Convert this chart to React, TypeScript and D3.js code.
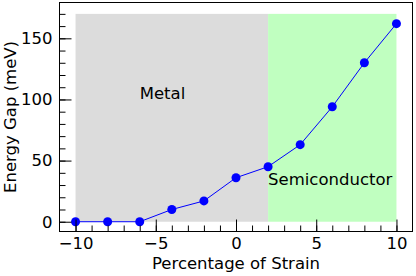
import React, { useEffect, useRef } from 'react';
import * as d3 from 'd3';

// strain (%) and band gap (meV)
const strain = [-10, -8, -6, -4, -2, 0, 2, 4, 6, 8, 10];
const gap = [0, 0, 0, 10, 17, 36, 45, 63, 94, 130, 162];

const xMajor = [-10, -5, 0, 5, 10];
const yMajor = [0, 50, 100, 150];

const metalRange = [-10, 2];
const semiRange = [2, 10];
const shadeTop = 170;

const W = 416;
const H = 276;
const FONT = 'DejaVu Sans, sans-serif';
const FS = 16.5;

function App() {
  const ref = useRef<SVGSVGElement | null>(null);

  useEffect(() => {
    const svg = d3.select(ref.current);
    svg.selectAll('*').remove();

    const left = 59.5, right = 412.5, top = 2.5, bottom = 231.5;

    const x = d3.scaleLinear().domain([-11, 11]).range([left, right]);
    const y = d3.scaleLinear().domain([-8, 179.3]).range([bottom, top]);

    // shaded regions
    svg.append('rect')
      .attr('x', x(metalRange[0]))
      .attr('y', y(shadeTop))
      .attr('width', x(metalRange[1]) - x(metalRange[0]))
      .attr('height', y(0) - y(shadeTop))
      .attr('fill', '#dcdcdc');

    svg.append('rect')
      .attr('x', x(semiRange[0]))
      .attr('y', y(shadeTop))
      .attr('width', x(semiRange[1]) - x(semiRange[0]))
      .attr('height', y(0) - y(shadeTop))
      .attr('fill', '#c0ffc0');

    // line + markers
    const pts = strain.map((s, i) => [s, gap[i]] as [number, number]);
    const line = d3.line<[number, number]>()
      .x(d => x(d[0]))
      .y(d => y(d[1]));

    svg.append('path')
      .datum(pts)
      .attr('d', line)
      .attr('fill', 'none')
      .attr('stroke', '#0000ff')
      .attr('stroke-width', 1);

    svg.selectAll('.pt')
      .data(pts)
      .join('circle')
      .attr('class', 'pt')
      .attr('cx', d => x(d[0]))
      .attr('cy', d => y(d[1]))
      .attr('r', 4.5)
      .attr('fill', '#0000ff');

    // region labels
    svg.append('text')
      .attr('x', x(-6))
      .attr('y', y(100))
      .attr('font-family', FONT)
      .attr('font-size', FS)
      .text('Metal');

    svg.append('text')
      .attr('x', x(2))
      .attr('y', y(30))
      .attr('font-family', FONT)
      .attr('font-size', FS)
      .text('Semiconductor');

    // axes, ticks point inward
    const fmt = (d: d3.NumberValue) => d3.format('d')(d as number).replace('-', '\u2212');

    const gxMinor = svg.append('g').attr('transform', `translate(0,${bottom})`);
    gxMinor.call(d3.axisBottom(x).tickValues(d3.range(-10, 11, 1)).tickSize(-6));
    gxMinor.selectAll('text').remove();
    const gx = svg.append('g').attr('transform', `translate(0,${bottom})`);
    gx.call(d3.axisBottom(x).tickValues(xMajor).tickSize(-12).tickPadding(6).tickFormat(fmt));

    const gyMinor = svg.append('g').attr('transform', `translate(${left},0)`);
    gyMinor.call(d3.axisLeft(y).tickValues(d3.range(0, 171, 10)).tickSize(-6));
    gyMinor.selectAll('text').remove();
    const gy = svg.append('g').attr('transform', `translate(${left},0)`);
    gy.call(d3.axisLeft(y).tickValues(yMajor).tickSize(-12).tickPadding(7).tickFormat(fmt));

    svg.selectAll('.domain').remove();
    svg.selectAll('.tick line').attr('stroke', '#000').attr('stroke-width', 1);
    svg.selectAll('.tick text')
      .attr('fill', '#000')
      .attr('font-family', FONT)
      .attr('font-size', FS);

    // frame
    svg.append('rect')
      .attr('x', left)
      .attr('y', top)
      .attr('width', right - left)
      .attr('height', bottom - top)
      .attr('fill', 'none')
      .attr('stroke', '#000')
      .attr('stroke-width', 1);

    // axis titles
    svg.append('text')
      .attr('x', (left + right) / 2)
      .attr('y', 268.5)
      .attr('text-anchor', 'middle')
      .attr('font-family', FONT)
      .attr('font-size', FS)
      .text('Percentage of Strain');

    svg.append('text')
      .attr('transform', `translate(15.5,${(top + bottom) / 2}) rotate(-90)`)
      .attr('text-anchor', 'middle')
      .attr('font-family', FONT)
      .attr('font-size', FS)
      .text('Energy Gap (meV)');
  }, []);

  return (
    <svg ref={ref} width={W} height={H}
      style={{ position: 'absolute', left: 0, top: 0, background: '#fff' }} />
  );
}

export default App;
